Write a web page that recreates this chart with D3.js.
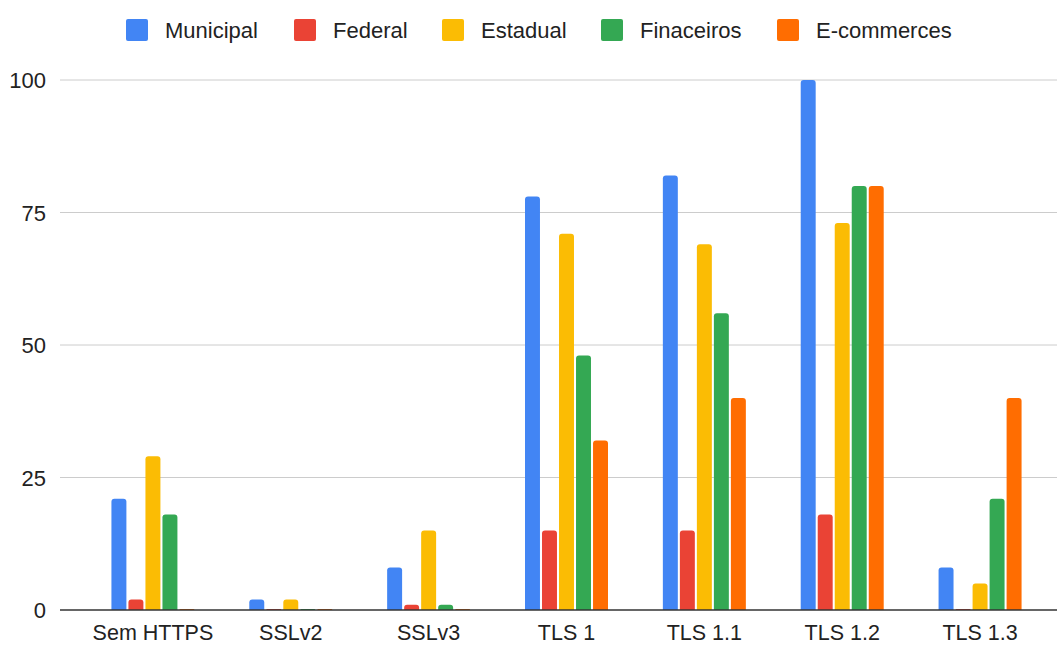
<!DOCTYPE html>
<html>
<head>
<meta charset="utf-8">
<script src="https://cdn.jsdelivr.net/npm/d3@7"></script>
<style>
  body { margin: 0; background: #fff; }
  text { font-family: Arial, "Liberation Sans", sans-serif; fill: #222; }
</style>
</head>
<body>
<svg id="chart" width="1059" height="645"></svg>
<script>
const categories = ['Sem HTTPS', 'SSLv2', 'SSLv3', 'TLS 1', 'TLS 1.1', 'TLS 1.2', 'TLS 1.3'];
const series = ['Municipal', 'Federal', 'Estadual', 'Finaceiros', 'E-commerces'];
const colors = ['#4285F4', '#EA4335', '#FBBC04', '#34A853', '#FF6D01'];

// one array per series, same order as categories
const municipal  = [21, 2, 8, 78, 82, 100, 8];
const federal    = [2, 0, 1, 15, 15, 18, 0];
const estadual   = [29, 2, 15, 71, 69, 73, 5];
const financeiros = [18, 0, 1, 48, 56, 80, 21];
const ecommerces = [0, 0, 0, 32, 40, 80, 40];
const yTicks = [0, 25, 50, 75, 100];

const values = [municipal, federal, estadual, financeiros, ecommerces];

const svg = d3.select('#chart');
const plot = { left: 60, right: 1057, top: 80, bottom: 610 };

const x0 = d3.scaleBand().domain(categories).range([84, 1049]).padding(0);
const x1 = d3.scaleBand().domain(series).range([-41.5, 41.5]).paddingInner(0.12).paddingOuter(0);
const y = d3.scaleLinear().domain([0, 100]).range([plot.bottom, plot.top]);

// Gridlines
svg.append('g').selectAll('line').data(yTicks.filter(d => d > 0)).enter()
  .append('line')
  .attr('x1', plot.left).attr('x2', plot.right)
  .attr('y1', d => y(d)).attr('y2', d => y(d))
  .attr('stroke', '#cccccc').attr('stroke-width', 1);

// Y labels
svg.append('g').selectAll('text').data(yTicks).enter()
  .append('text')
  .attr('x', 46).attr('y', d => y(d) + 8)
  .attr('text-anchor', 'end')
  .style('font-size', '22px')
  .text(d => d);

// Bars
const rows = [];
categories.forEach((c, i) => {
  series.forEach((s, j) => rows.push({ cat: c, ser: s, v: values[j][i], color: colors[j] }));
});

const barPath = (d) => {
  const bx = x0(d.cat) + x0.bandwidth() / 2 + x1(d.ser);
  const w = x1.bandwidth();
  const y0 = y(0);
  const h = Math.max(y0 - y(d.v), 1);
  const r = Math.min(3, h, w / 2);
  const top = y0 - h;
  return `M${bx},${y0}V${top + r}Q${bx},${top} ${bx + r},${top}H${bx + w - r}Q${bx + w},${top} ${bx + w},${top + r}V${y0}Z`;
};

svg.append('g').selectAll('path').data(rows).enter()
  .append('path')
  .attr('d', barPath)
  .attr('fill', d => d.color);

// Baseline
svg.append('line')
  .attr('x1', plot.left).attr('x2', plot.right)
  .attr('y1', y(0)).attr('y2', y(0))
  .attr('stroke', '#333').attr('stroke-width', 1.5);

// X labels
svg.append('g').selectAll('text').data(categories).enter()
  .append('text')
  .attr('x', d => x0(d) + x0.bandwidth() / 2)
  .attr('y', 640)
  .attr('text-anchor', 'middle')
  .style('font-size', '21.5px')
  .text(d => d);

// Legend
const legendX = [126, 294, 442, 601, 777];
const legend = svg.append('g').selectAll('g').data(series).enter()
  .append('g')
  .attr('transform', (d, i) => `translate(${legendX[i]},19)`);
legend.append('rect')
  .attr('width', 22).attr('height', 22).attr('rx', 2)
  .attr('fill', (d, i) => colors[i]);
legend.append('text')
  .attr('x', 39).attr('y', 19)
  .style('font-size', '22px')
  .text(d => d);
</script>
</body>
</html>
